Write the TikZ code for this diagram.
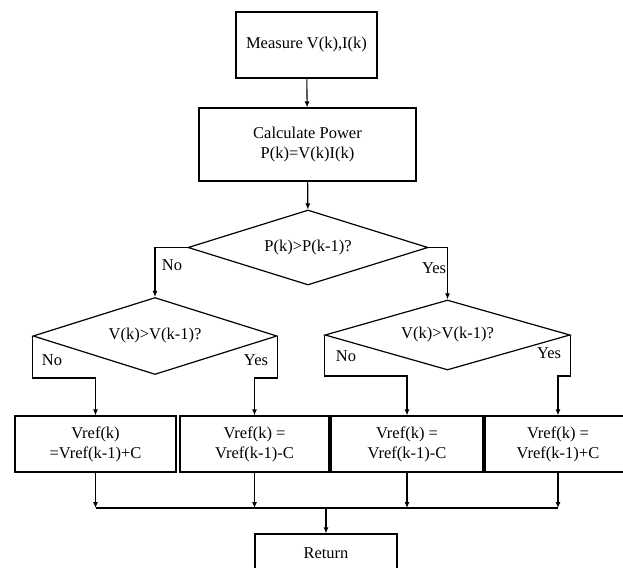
\documentclass[tikz,border=0pt]{standalone}
\usepackage{fontspec}
\setmainfont{Liberation Serif}
\usetikzlibrary{shapes.geometric,arrows.meta}
\begin{document}
\begin{tikzpicture}[x=1pt,y=-1pt,
  every node/.style={font=\fontsize{16.5}{20}\selectfont},
  box/.style={draw,line width=1.2pt,rectangle,inner sep=0pt,align=center},
  dia/.style={draw,line width=1.2pt,diamond,inner sep=0pt,shape aspect=3.2},
  arr/.style={line width=1.1pt,-{Latex[length=6pt,width=5pt]}},
  ln/.style={line width=1.1pt},
  lbl/.style={inner sep=0pt}]
\useasboundingbox (0,0) rectangle (623,567);
\fill[white] (0,0) rectangle (623,567);

\node[box,minimum width=141pt,minimum height=66pt] (m) at (306.5,45) {Measure V(k),I(k)};
\node[box,minimum width=217pt,minimum height=73pt] (c) at (307.5,144.5) {Calculate Power\\P(k)=V(k)I(k)};
\node[dia,minimum width=240pt,minimum height=75pt] (d1) at (308,247.5) {P(k)>P(k-1)?};
\node[dia,minimum width=244pt,minimum height=77pt] (d2) at (155,336) {V(k)>V(k-1)?};
\node[dia,minimum width=245pt,minimum height=70pt] (d3) at (447.5,335) {V(k)>V(k-1)?};

\node[box,minimum width=161pt,minimum height=56pt] (A) at (95.5,444) {Vref(k)\\=Vref(k-1)+C};
\node[box,minimum width=149pt,minimum height=56pt] (B) at (254.5,444) {Vref(k) =\\Vref(k-1)-C};
\node[box,minimum width=152pt,minimum height=56pt] (C) at (407,444) {Vref(k) =\\Vref(k-1)-C};
\node[box,minimum width=146pt,minimum height=56pt] (D) at (558,444) {Vref(k) =\\Vref(k-1)+C};
\node[box,minimum width=142pt,minimum height=38pt] (R) at (326,553) {Return};

\coordinate (bus) at (325,508);

\draw[arr] (m) -- (c);
\draw[arr] (c) -- (d1);
\draw[arr] (d1.west) -| (d2.north);
\draw[arr] (d1.east) -| (d3.north);
\draw[arr] (d2.west) -- ++(0,42) -| (A.north);
\draw[arr] (d2.east) -- ++(0,42) -| (B.north);
\draw[arr] (d3.west) -- ++(0,41) -| (C.north);
\draw[arr] (d3.east) -- ++(0,41) -| (D.north);

\node[lbl] (l1) at (172,265) {No};
\node[lbl] (l2) at (434,268) {Yes};
\node[lbl] (l3) at (52,360) {No};
\node[lbl] (l4) at (256,360) {Yes};
\node[lbl] (l5) at (346,356) {No};
\node[lbl] (l6) at (549,353) {Yes};

\draw[arr] (A.south) -- (A.south |- bus);
\draw[arr] (B.south) -- (B.south |- bus);
\draw[arr] (C.south) -- (C.south |- bus);
\draw[arr] (D.south) -- (D.south |- bus);
\draw[ln] (A.south |- bus) -- (D.south |- bus);
\draw[arr] (R.north |- bus) -- (R.north);
\end{tikzpicture}
\end{document}
